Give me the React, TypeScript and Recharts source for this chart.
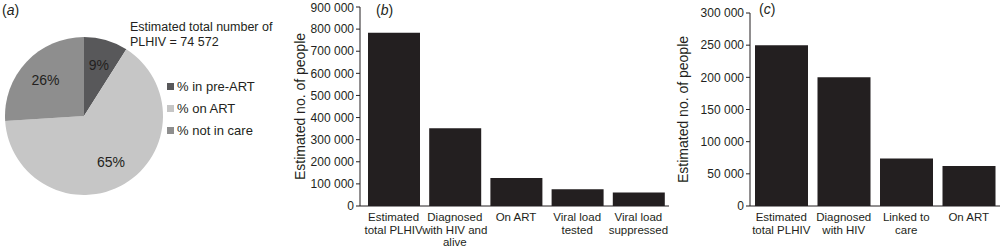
import React from 'react';
import { PieChart, Pie, Cell, BarChart, Bar, XAxis, YAxis } from 'recharts';

// panel (a) – care status of PLHIV
const careNames = ['% in pre-ART', '% on ART', '% not in care'];
const careShares = [9, 65, 26];
const careColors = ['#58585a', '#c6c6c6', '#8e8e8e'];

// panel (b)
const cascadeB = [
  'Estimated\ntotal PLHIV',
  'Diagnosed\nwith HIV and\nalive',
  'On ART',
  'Viral load\ntested',
  'Viral load\nsuppressed',
];
const peopleB = [783000, 352000, 127000, 76000, 61000];
const ticksB = [0, 100000, 200000, 300000, 400000, 500000, 600000, 700000, 800000, 900000];

// panel (c)
const cascadeC = ['Estimated\ntotal PLHIV', 'Diagnosed\nwith HIV', 'Linked to\ncare', 'On ART'];
const peopleC = [250000, 200000, 74000, 62000];
const ticksC = [0, 50000, 100000, 150000, 200000, 250000, 300000];

const FONT = '"Liberation Sans", Arial, sans-serif';
const INK = '#231f20';

const fmt = (v: number) => String(v).replace(/\B(?=(\d{3})+(?!\d))/g, ' ');

const RAD = Math.PI / 180;

function PieLabel(props: any) {
  const { cx, cy, midAngle, outerRadius, percent } = props;
  const r = outerRadius * 0.67;
  const x = cx + r * Math.cos(-midAngle * RAD);
  const y = cy + r * Math.sin(-midAngle * RAD);
  return (
    <text x={x} y={y} fill={INK} fontSize={14} textAnchor="middle" dominantBaseline="central" fontFamily={FONT}>
      {Math.round(percent * 100)}%
    </text>
  );
}

function MultiTick(props: any) {
  const { x, y, payload } = props;
  const lines = String(payload.value).split('\n');
  return (
    <text x={x} y={y} textAnchor="middle" fill={INK} fontSize={11.5} fontFamily={FONT}>
      {lines.map((l, i) => (
        <tspan key={i} x={x} dy={i === 0 ? 7 : 12.5}>
          {l}
        </tspan>
      ))}
    </text>
  );
}

const PanelTag = ({ letter, left, top }: { letter: string; left: number; top: number }) => (
  <div style={{ position: 'absolute', left, top, fontFamily: FONT, fontSize: 14, color: INK, lineHeight: '16px' }}>
    (<i>{letter}</i>)
  </div>
);

export default function App() {
  const pieData = careNames.map((name, i) => ({ name, value: careShares[i] }));
  const dataB = cascadeB.map((name, i) => ({ name, value: peopleB[i] }));
  const dataC = cascadeC.map((name, i) => ({ name, value: peopleC[i] }));

  const yLabel = (offset: number) => ({
    value: 'Estimated no. of people',
    angle: -90,
    position: 'insideLeft' as const,
    offset,
    style: { textAnchor: 'middle', fontSize: 14, fill: INK, fontFamily: FONT },
  });

  return (
    <div style={{ position: 'absolute', left: 0, top: 0, width: 1000, height: 249, background: '#fff', overflow: 'hidden' }}>
      <div style={{ position: 'absolute', left: 0, top: 0 }}>
        <PieChart width={290} height={249}>
          <Pie
            data={pieData}
            dataKey="value"
            nameKey="name"
            cx={79}
            cy={111}
            outerRadius={79}
            startAngle={90}
            endAngle={-270}
            stroke="none"
            label={PieLabel}
            labelLine={false}
            isAnimationActive={false}
          >
            {pieData.map((_, i) => (
              <Cell key={i} fill={careColors[i]} />
            ))}
          </Pie>
        </PieChart>
      </div>

      <PanelTag letter="a" left={2} top={2} />
      <PanelTag letter="b" left={376} top={2} />
      <PanelTag letter="c" left={759} top={1} />

      <div
        style={{
          position: 'absolute',
          left: 130,
          top: 20,
          fontFamily: FONT,
          fontSize: 12.5,
          lineHeight: '15px',
          color: INK,
        }}
      >
        Estimated total number of
        <br />
        PLHIV = 74 572
      </div>

      <div style={{ position: 'absolute', left: 167, top: 75, fontFamily: FONT, fontSize: 13, color: INK }}>
        {careNames.map((n, i) => (
          <div key={n} style={{ display: 'flex', alignItems: 'center', height: 22, whiteSpace: 'nowrap' }}>
            <span style={{ width: 7, height: 7, background: careColors[i], marginRight: 3, flex: 'none' }} />
            <span>{n}</span>
          </div>
        ))}
      </div>

      <div style={{ position: 'absolute', left: 280, top: 0 }}>
        <BarChart width={389} height={249} data={dataB} margin={{ top: 7, right: 0, bottom: 0, left: 0 }}>
          <XAxis
            dataKey="name"
            height={43}
            tickLine={false}
            axisLine={{ stroke: INK }}
            tick={<MultiTick />}
            interval={0}
            padding={{ left: 3, right: 0 }}
          />
          <YAxis
            width={80}
            domain={[0, 900000]}
            ticks={ticksB}
            tickFormatter={fmt}
            tickSize={4}
            tickMargin={2}
            axisLine={{ stroke: INK }}
            tickLine={{ stroke: INK }}
            tick={{ fill: INK, fontSize: 12, fontFamily: FONT }}
            label={yLabel(20)}
          />
          <Bar dataKey="value" fill={INK} barSize={52} isAnimationActive={false} />
        </BarChart>
      </div>

      <div style={{ position: 'absolute', left: 670, top: 0 }}>
        <BarChart width={330} height={249} data={dataC} margin={{ top: 13, right: 0, bottom: 0, left: 0 }}>
          <XAxis
            dataKey="name"
            height={43}
            tickLine={false}
            axisLine={{ stroke: INK }}
            tick={<MultiTick />}
            interval={0}
          />
          <YAxis
            width={80}
            domain={[0, 300000]}
            ticks={ticksC}
            tickFormatter={fmt}
            tickSize={4}
            tickMargin={2}
            axisLine={{ stroke: INK }}
            tickLine={{ stroke: INK }}
            tick={{ fill: INK, fontSize: 12, fontFamily: FONT }}
            label={yLabel(13)}
          />
          <Bar dataKey="value" fill={INK} barSize={53} isAnimationActive={false} />
        </BarChart>
      </div>
    </div>
  );
}
